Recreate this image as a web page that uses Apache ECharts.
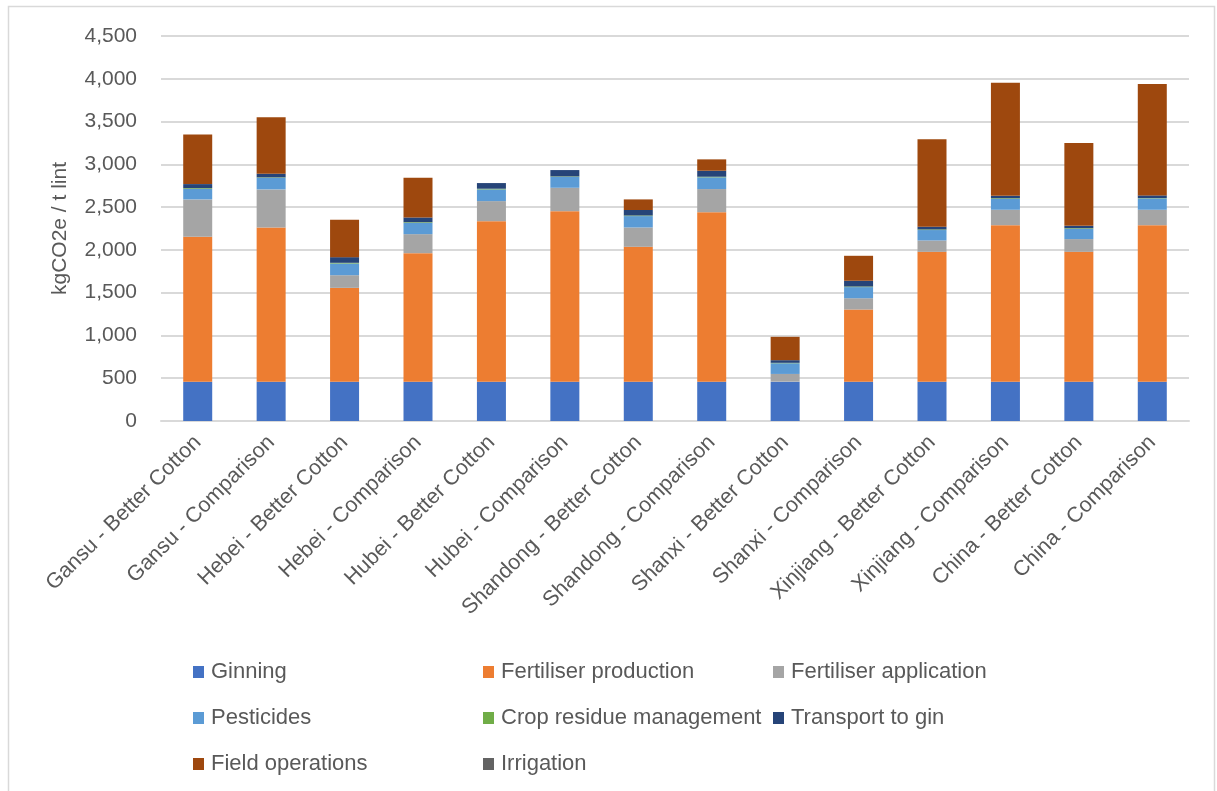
<!DOCTYPE html>
<html>
<head>
<meta charset="utf-8">
<script src="https://cdn.jsdelivr.net/npm/echarts@6/dist/echarts.min.js"></script>
<style>
  html, body { margin: 0; padding: 0; background: #fff; }
  #main { width: 1217px; height: 791px; }
</style>
</head>
<body>
<div id="main"></div>
<script>
// categories (x axis)
var categories = [
    'Gansu - Better Cotton', 'Gansu - Comparison',
    'Hebei - Better Cotton', 'Hebei - Comparison',
    'Hubei - Better Cotton', 'Hubei - Comparison',
    'Shandong - Better Cotton', 'Shandong - Comparison',
    'Shanxi - Better Cotton', 'Shanxi - Comparison',
    'Xinjiang - Better Cotton', 'Xinjiang - Comparison',
    'China - Better Cotton', 'China - Comparison'
];

// kgCO2e / t lint
var ginning        = [460, 460, 460, 460, 460, 460, 460, 460, 460, 460, 460, 460, 460, 460];
var fertProduction = [1693, 1802, 1096, 1502, 1876, 1993, 1576, 1981, 0, 843, 1517, 1829, 1517, 1829];
var fertApplication= [437, 445, 148, 222, 234, 273, 226, 270, 90, 132, 133, 180, 149, 180];
var pesticides     = [124, 136, 137, 133, 137, 128, 133, 137, 125, 130, 122, 128, 121, 133];
var cropResidue    = [8, 5, 8, 7, 8, 5, 7, 7, 5, 7, 7, 7, 7, 4];
var transport      = [47, 42, 66, 55, 66, 74, 64, 70, 31, 67, 32, 28, 27, 31];
var fieldOps       = [581, 659, 437, 464, 0, 0, 124, 133, 273, 292, 1021, 1323, 968, 1302];
var irrigation     = [0, 0, 0, 0, 0, 0, 0, 0, 0, 0, 0, 0, 0, 0];

var yTicks = { min: 0, max: 4500, interval: 500 };

var seriesDefs = [
    { name: 'Ginning', data: ginning, color: '#4472C4' },
    { name: 'Fertiliser production', data: fertProduction, color: '#ED7D31' },
    { name: 'Fertiliser application', data: fertApplication, color: '#A5A5A5' },
    { name: 'Pesticides', data: pesticides, color: '#5B9BD5' },
    { name: 'Crop residue management', data: cropResidue, color: '#70AD47' },
    { name: 'Transport to gin', data: transport, color: '#264478' },
    { name: 'Field operations', data: fieldOps, color: '#9E480E' },
    { name: 'Irrigation', data: irrigation, color: '#636363' }
];

var FONT = "'Liberation Sans', Arial, sans-serif";
var TEXT = '#595959';

var chart = echarts.init(document.getElementById('main'));

var option = {
    animation: false,
    backgroundColor: '#ffffff',
    graphic: [{
        type: 'rect',
        shape: { x: 8.5, y: 6.5, width: 1206, height: 800 },
        style: { fill: 'none', stroke: '#d9d9d9', lineWidth: 1.5 },
        silent: true
    }],
    grid: { left: 161, right: 28, top: 36, bottom: 370 },
    legend: {
        left: 193,
        top: 649,
        padding: 0,
        width: 880,
        itemWidth: 11,
        itemHeight: 12,
        itemGap: 0,
        icon: 'rect',
        data: seriesDefs.map(function (s) { return s.name; }),
        textStyle: {
            fontFamily: FONT,
            fontSize: 22,
            color: TEXT,
            width: 272,
            lineHeight: 46,
            padding: [0, 0, 0, 2]
        }
    },
    xAxis: {
        type: 'category',
        data: categories,
        axisLine: { show: true, lineStyle: { color: '#d9d9d9', width: 2 } },
        axisTick: { show: false },
        axisLabel: {
            interval: 0,
            rotate: 45,
            margin: 18,
            fontFamily: FONT,
            fontSize: 21.5,
            color: TEXT
        }
    },
    yAxis: {
        type: 'value',
        min: yTicks.min,
        max: yTicks.max,
        interval: yTicks.interval,
        name: 'kgCO2e / t lint',
        nameLocation: 'middle',
        nameGap: 90,
        nameTextStyle: { fontFamily: FONT, fontSize: 21, color: TEXT },
        axisLine: { show: false },
        axisTick: { show: false },
        splitLine: { lineStyle: { color: '#d9d9d9', width: 2 } },
        axisLabel: {
            margin: 24,
            fontFamily: FONT,
            fontSize: 21,
            color: TEXT,
            formatter: function (v) { return v.toLocaleString('en-US'); }
        }
    },
    series: seriesDefs.map(function (s) {
        return {
            name: s.name,
            type: 'bar',
            stack: 'total',
            barWidth: 29,
            data: s.data,
            itemStyle: { color: s.color },
            emphasis: { disabled: true }
        };
    })
};

chart.setOption(option);
</script>
</body>
</html>
